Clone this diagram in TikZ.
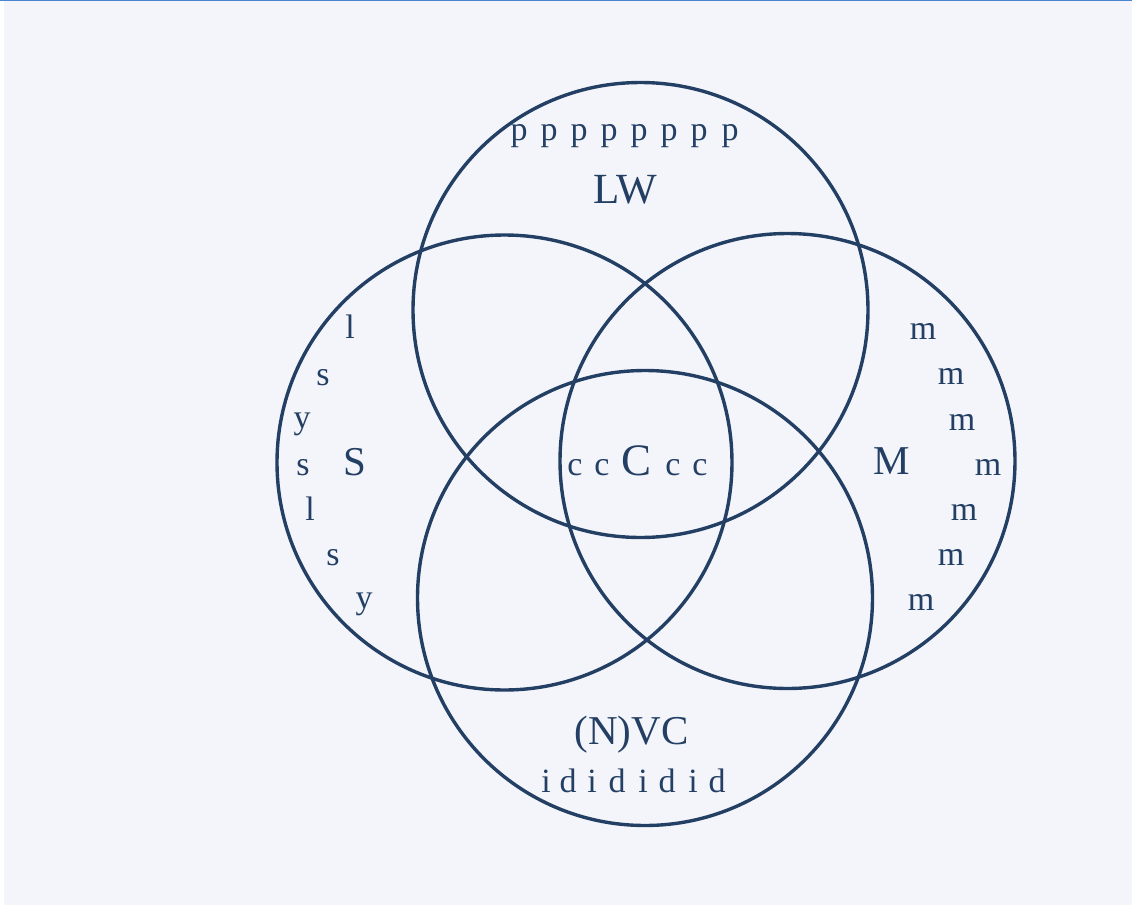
\documentclass[tikz,border=0pt]{standalone}
\usepackage{tikz}
\usepackage{fontspec}
\setmainfont{Liberation Serif}
\usetikzlibrary{positioning}

\definecolor{bgcol}{HTML}{F3F5FA}
\definecolor{navy}{HTML}{243F64}
\definecolor{topline}{HTML}{4A86CF}

\begin{document}
\begin{tikzpicture}[x=0.5pt, y=-0.5pt]

		\tikzstyle{ring} = [circle, draw=navy, line width=1.7pt, minimum size=227.5pt, inner sep=0pt]
		\tikzstyle{big} = [text=navy, anchor=base, inner sep=0pt, font=\fontsize{20.5}{21}\selectfont]
		\tikzstyle{small} = [text=navy, anchor=base, inner sep=0pt, font=\fontsize{17}{17}\selectfont]

		% Background
		\useasboundingbox (0,0) rectangle (1132,905);
		\fill[white] (0,0) rectangle (1132,905);
		\fill[bgcol] (4,0) rectangle (1132,905);
		\draw[topline, line width=0.6pt] (0,0.6) -- (1132,0.6);

		% Define sets
		\node[ring] (lw) at (640.5,310) {};
		\node[ring] (s) at (504.5,462.5) {};
		\node[ring] (m) at (787.5,461) {};
		\node[ring] (nvc) at (645,598) {};

		% Set labels
		\node[big, font=\fontsize{21.5}{22}\selectfont] (lwlabel) at (625,203) {LW};
		\node[big] (slabel) at (355,475) {S};
		\node[big] (mlabel) at (892,474) {M};
		\node[big, font=\fontsize{22.5}{23}\selectfont] (clabel) at (637,475) {C};
		\node[big] (nvclabel) at (631.5,744) {(N)VC};

		% Members
		\foreach \x [count=\i] in {519,549,579,609,639,669,699,730}
			\node[small] (p\i) at (\x,140) {p};
		\foreach \x/\y/\t [count=\i] in {350/338/l, 323/385/s, 302/428/y, 303/475/s, 310/520/l, 333/565/s, 364/608/y}
			\node[small] (sy\i) at (\x,\y) {\t};
		\foreach \x/\y [count=\i] in {923/339, 951/384, 962/430, 988/475, 964/520, 951/565, 921/610}
			\node[small] (m\i) at (\x,\y) {m};
		\foreach \x [count=\i] in {575,602,673,700}
			\node[small] (c\i) at (\x,475) {c};
		\foreach \x/\t [count=\i] in {546/i, 568/d, 592/i, 617/d, 643/i, 667/d, 693/i, 717/d}
			\node[small] (id\i) at (\x,792) {\t};

	\end{tikzpicture}
\end{document}
